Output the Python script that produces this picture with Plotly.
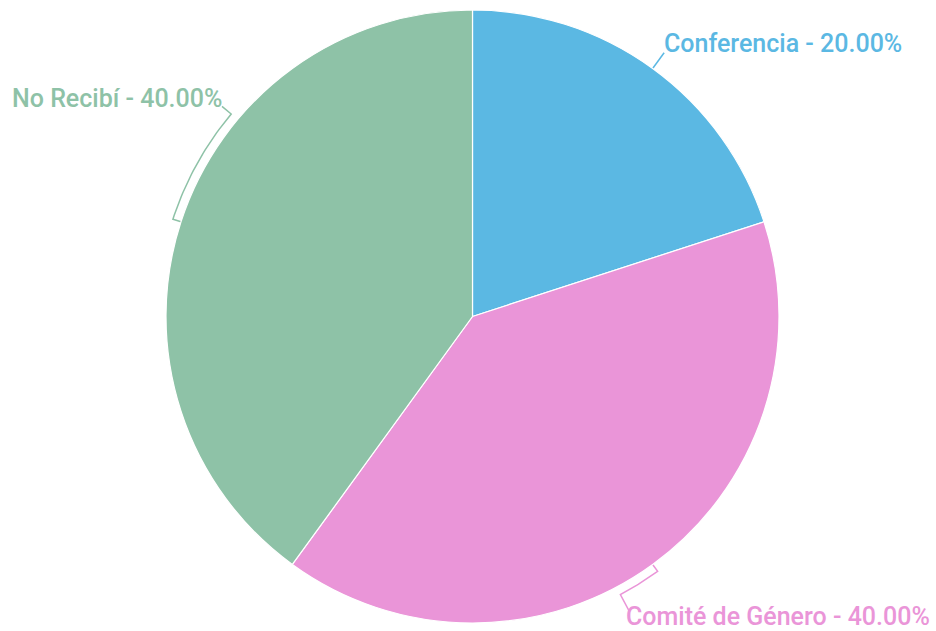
import math
import plotly.graph_objects as go

labels = ["Conferencia", "Comité de Género", "No Recibí"]
values = [20, 40, 40]
colors = ["#5BB8E3", "#EA95D8", "#8EC2A7"]

W, H = 936, 631
cx, cy, R = 472.5, 316.5, 306.5

# layout of leader lines / labels (angle in degrees clockwise from 12 o'clock)
label_angles = [36.3, 152.0, 310.0]
label_radius = [326.0, 333.5, 327.0]
bend_radius = 315.0
text_dx = [-2, -5, 2]
text_dy = [-9, 6, -8]
text_xanchor = ["left", "left", "right"]


def pt(angle, r):
    a = math.radians(angle)
    return cx + r * math.sin(a), cy - r * math.cos(a)


fig = go.Figure()

fig.add_trace(go.Pie(
    labels=labels, values=values, sort=False, direction="clockwise", rotation=0,
    marker=dict(colors=colors, line=dict(color="white", width=1.2)),
    textinfo="none", hoverinfo="skip", showlegend=False,
    domain=dict(x=[cx / W - 0.35, cx / W + 0.35], y=[(H - cy - R) / H, (H - cy + R) / H]),
))

total = sum(values)
cum = 0
annotations = []
for i, (lab, v, col) in enumerate(zip(labels, values, colors)):
    mid = (cum + v / 2) / total * 360
    cum += v
    la = label_angles[i]
    xs, ys = [], []
    if abs(la - mid) < 1:
        for r in (R, label_radius[i]):
            x, y = pt(mid, r)
            xs.append(x); ys.append(y)
        ex, ey = xs[-1], ys[-1]
    else:
        x, y = pt(mid, R); xs.append(x); ys.append(y)
        n = 30
        for k in range(n + 1):
            ang = mid + (la - mid) * k / n
            x, y = pt(ang, bend_radius); xs.append(x); ys.append(y)
        x, y = pt(la, label_radius[i]); xs.append(x); ys.append(y)
        ex, ey = x, y
    fig.add_trace(go.Scatter(x=xs, y=ys, mode="lines", line=dict(color=col, width=1.5),
                             hoverinfo="skip", showlegend=False))
    pct = v / total * 100
    annotations.append(dict(
        x=ex + text_dx[i], y=ey + text_dy[i], xref="x", yref="y",
        text=f"{lab} - {pct:.2f}%", showarrow=False,
        xanchor=text_xanchor[i], yanchor="middle",
        font=dict(family="Roboto", size=25, color=col, weight=500),
    ))

fig.update_layout(
    width=W, height=H, margin=dict(l=0, r=0, t=0, b=0),
    paper_bgcolor="white", plot_bgcolor="rgba(0,0,0,0)",
    xaxis=dict(range=[0, W], visible=False, fixedrange=True),
    yaxis=dict(range=[H, 0], visible=False, fixedrange=True),
    annotations=annotations,
)

fig.write_html(
    "out.html",
    config={"displayModeBar": False, "staticPlot": True},
    post_script="document.body.style.margin='0';document.body.style.overflow='hidden';",
)
